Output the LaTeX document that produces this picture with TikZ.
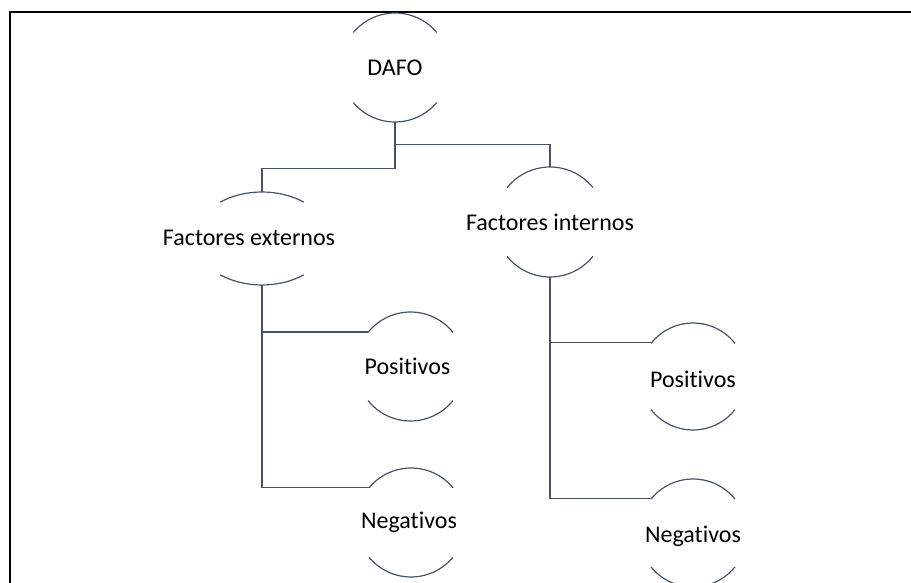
\documentclass[tikz,border=0pt]{standalone}
\usepackage{fontspec}
\setmainfont{Carlito}[Ligatures={NoCommon}]
\usetikzlibrary{shapes.geometric}
\definecolor{slate}{HTML}{44546A}
\newcommand\capsarcs[4]{%
  \draw[arcline] ([shift={(#4:#2pt and #3pt)}]#1.center) arc[start angle=#4, end angle=180-#4, x radius=#2pt, y radius=#3pt];
  \draw[arcline] ([shift={(180+#4:#2pt and #3pt)}]#1.center) arc[start angle=180+#4, end angle=360-#4, x radius=#2pt, y radius=#3pt];}
\tikzset{
  arcline/.style={draw=slate, line width=1.2pt},
  conn/.style={draw=slate, line width=1.2pt},
  frame/.style={draw=black, line width=1.8pt},
  circ/.style={circle, draw=none, inner sep=0pt, minimum size=#1},
  oval/.style 2 args={ellipse, draw=none, inner sep=0pt, minimum width=#1, minimum height=#2},
  every label/.style={font=\fontsize{24}{29}\selectfont, text=black, inner sep=0pt},
}
\begin{document}
\begin{tikzpicture}[x=1pt,y=1pt]
\useasboundingbox (0,0) rectangle (911,583);
\draw[frame] (10,0) -- (10,571) -- (911,571);

\node[circ=109pt, label={center:DAFO}] (dafo) at (395,515.5) {};
\node[oval={134pt}{93pt}, label={[xshift=-13pt, yshift=1pt]center:Factores externos}] (extF) at (262,344.5) {};
\node[circ=110pt, label={center:Factores internos}] (intF) at (550,361) {};
\node[circ=109pt, label={[xshift=-3pt]center:Positivos}] (posL) at (410.5,216.5) {};
\node[circ=109pt, label={[xshift=-2pt]center:Negativos}] (negL) at (411,60.5) {};
\node[circ=107pt, label={[yshift=-3pt]center:Positivos}] (posR) at (693,206.5) {};
\node[circ=108pt, label={[yshift=-3pt]center:Negativos}] (negR) at (693,50) {};

\capsarcs{dafo}{54.5}{54.5}{40}
\capsarcs{extF}{67}{46.5}{51.5}
\capsarcs{intF}{55}{55}{38.6}
\capsarcs{posL}{54.5}{54.5}{38.7}
\capsarcs{negL}{54.5}{54.5}{39.6}
\capsarcs{posR}{53.5}{53.5}{38.3}
\capsarcs{negR}{54}{54}{39}

\draw[conn] (dafo.south) -- ++(0,-46) -| (extF.north);
\draw[conn] (dafo.south) -- ++(0,-22) -| (intF.north);
\draw[conn] (extF.south) |- (posL.141.3);
\draw[conn] (extF.south) |- (negL.140.4);
\draw[conn] (intF.south) |- (posR.141.7);
\draw[conn] (intF.south) |- (negR.141);
\end{tikzpicture}
\end{document}
